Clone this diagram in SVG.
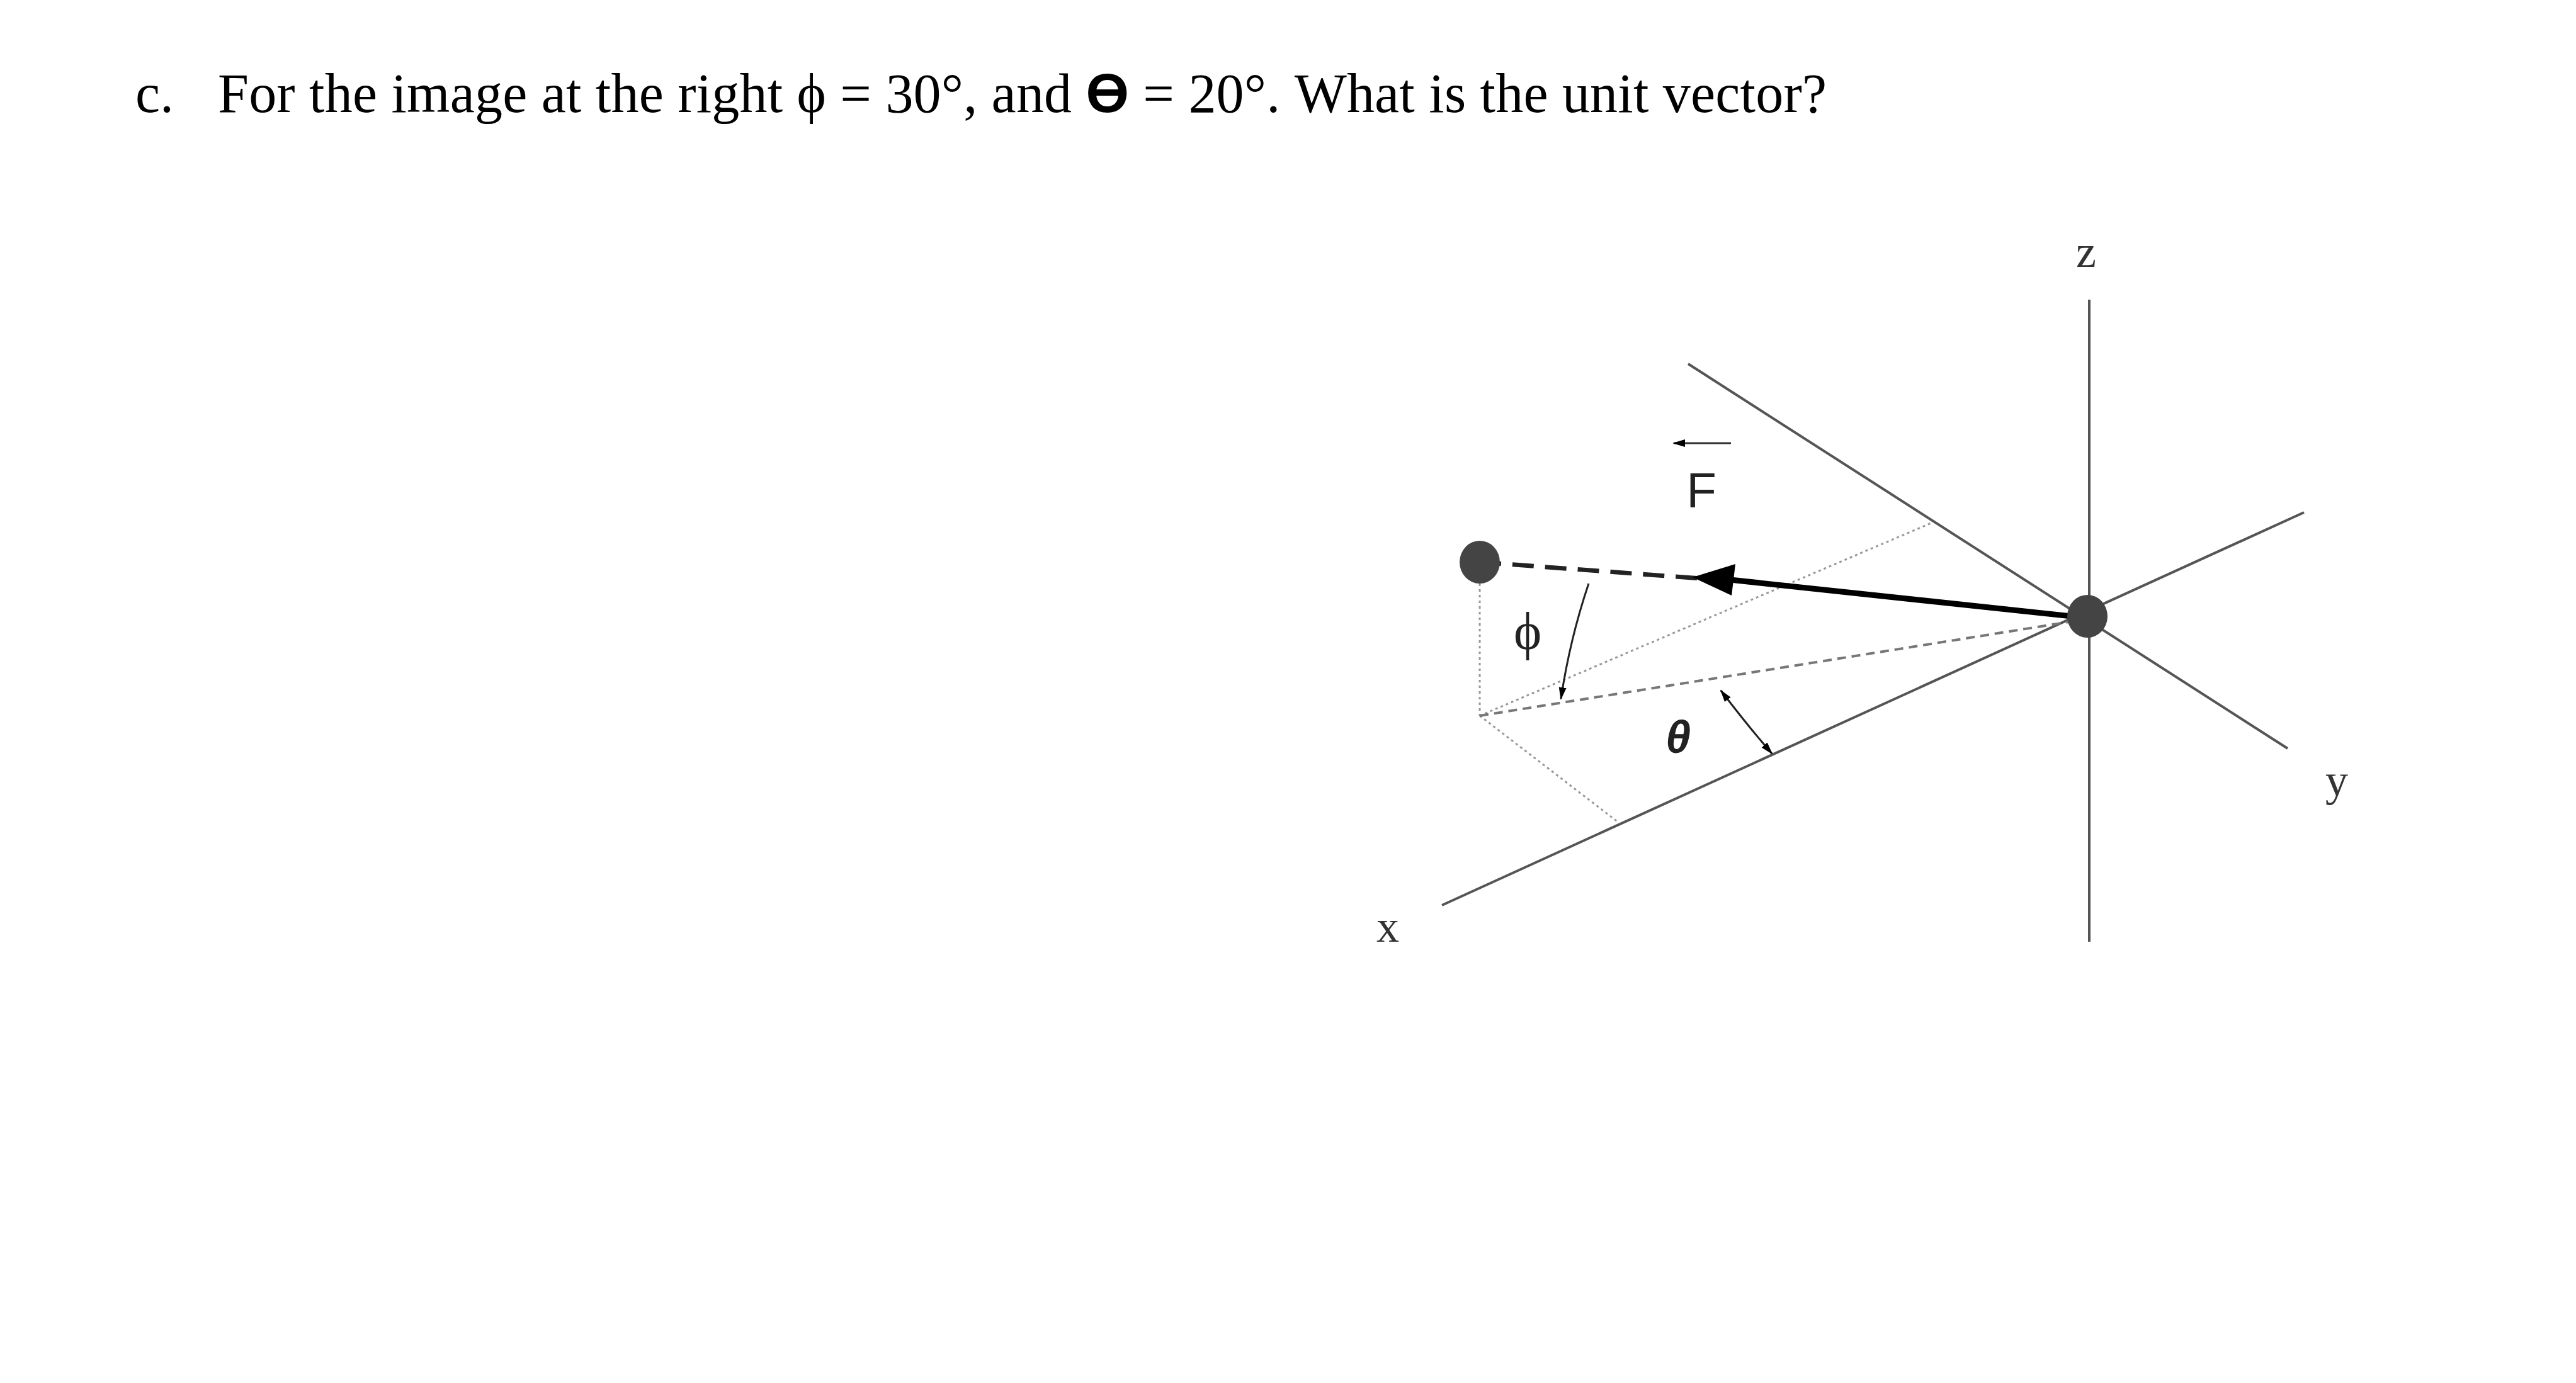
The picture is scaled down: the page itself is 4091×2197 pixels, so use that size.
<svg xmlns="http://www.w3.org/2000/svg" width="4091" height="2197" viewBox="0 0 4091 2197">
<style>
.t{font-family:"Liberation Serif",serif;font-size:88px;fill:#000}
.ax{stroke:#555;stroke-width:4;fill:none}
.lbl{font-family:"Liberation Serif",serif;font-size:72px;fill:#333}
.dot{stroke:#999;stroke-width:3;stroke-dasharray:4 5;fill:none}
.dash{stroke:#777;stroke-width:4;stroke-dasharray:14 9;fill:none}
</style>
<defs>
<marker id="ah" markerWidth="20" markerHeight="20" refX="18" refY="10" orient="auto-start-reverse" markerUnits="userSpaceOnUse" viewBox="0 0 20 20"><path d="M0,4 L20,10 L0,16 z" fill="#000"/></marker>
</defs>
<rect width="4091" height="2197" fill="#fff"/>
<g id="title">
<text class="t" x="215" y="178">c.</text>
<text class="t" x="346" y="178" textLength="2555" lengthAdjust="spacing">For the image at the right ϕ = 30°, and <tspan font-family="Liberation Sans,sans-serif" font-weight="bold">ϴ</tspan> = 20°.  What is the unit vector?</text>
</g>
<g transform="translate(-12,-4)">
<g id="connectors">
<line class="ax" x1="3330" y1="480" x2="3330" y2="1500"/>
<line class="ax" x1="2693" y1="582" x2="3645" y2="1193"/>
<line class="ax" x1="3671" y1="818" x2="2302" y2="1442"/>
<line class="dot" x1="2362" y1="931" x2="2362" y2="1141"/>
<line class="dot" x1="2362" y1="1141" x2="3081" y2="834"/>
<line class="dot" x1="2362" y1="1141" x2="2583" y2="1311"/>
<line class="dash" x1="2362" y1="1141" x2="3304" y2="991"/>
<line x1="2362" y1="897" x2="2740" y2="925" stroke="#222" stroke-width="7" stroke-dasharray="34 18"/>
<line x1="3320" y1="985" x2="2760" y2="925" stroke="#000" stroke-width="9"/>
<path d="M2700,921 L2768,900 L2762,950 z" fill="#000"/>
<path d="M2535,931 Q2505,1020 2491,1114" stroke="#222" stroke-width="3" fill="none" marker-end="url(#ah)"/>
<path d="M2745,1101 Q2790,1160 2826,1201" stroke="#222" stroke-width="3" fill="none" marker-start="url(#ah)" marker-end="url(#ah)"/>
<line x1="2761" y1="708" x2="2670" y2="708" stroke="#333" stroke-width="3" marker-end="url(#ah)"/>
</g>
<g id="origin"><ellipse cx="3327" cy="983" rx="32" ry="34" fill="#444"/></g>
<g id="point"><ellipse cx="2362" cy="897" rx="32" ry="34" fill="#444"/></g>
<g id="labels">
<text class="lbl" x="3325" y="428" text-anchor="middle">z</text>
<text class="lbl" x="3723" y="1268" text-anchor="middle">y</text>
<text class="lbl" x="2216" y="1500" text-anchor="middle">x</text>
<text x="2714" y="810" text-anchor="middle" font-family="Liberation Sans,sans-serif" font-size="78" fill="#222">F</text>
<text x="2438" y="1035" text-anchor="middle" font-family="Liberation Serif,serif" font-size="84" fill="#222">ϕ</text>
<text x="2677" y="1200" text-anchor="middle" font-family="Liberation Sans,sans-serif" font-weight="bold" font-style="italic" font-size="72" fill="#222">θ</text>
</g>
</g>
</svg>
